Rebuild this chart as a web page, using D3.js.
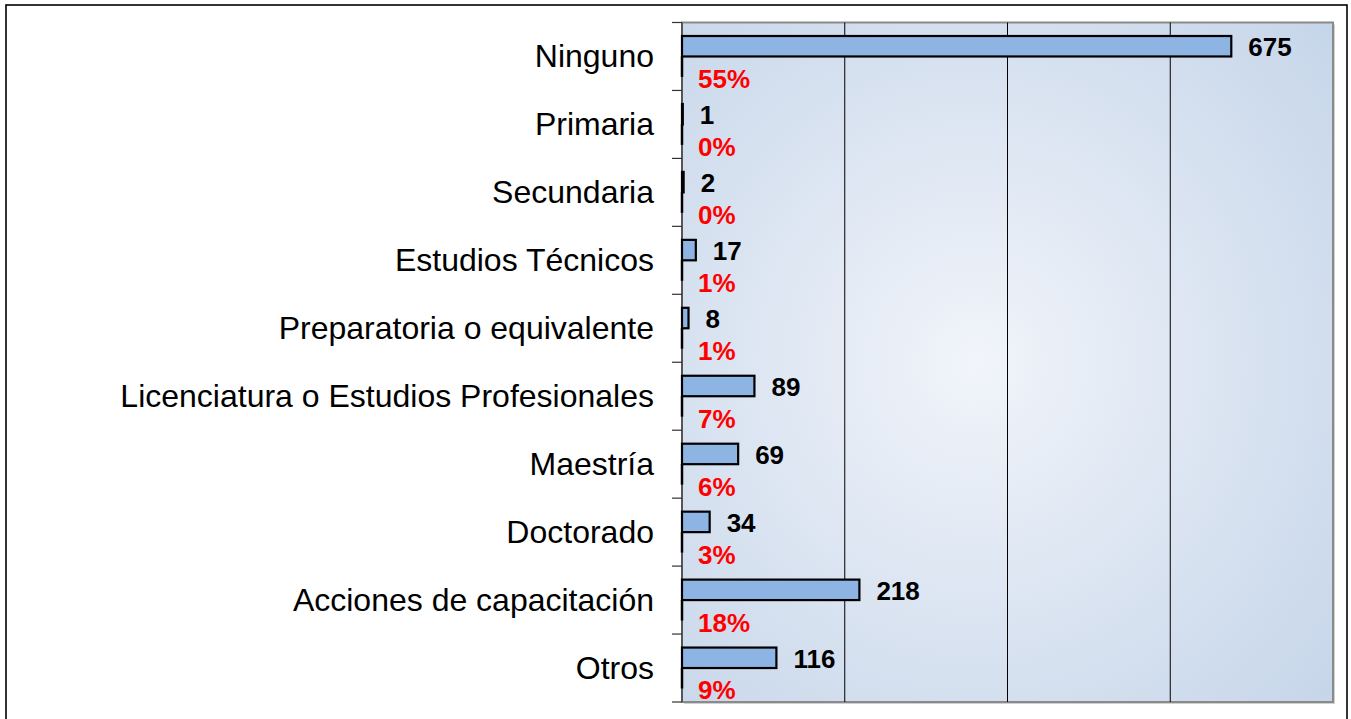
<!DOCTYPE html>
<html>
<head>
<meta charset="utf-8">
<script src="https://cdn.jsdelivr.net/npm/d3@7"></script>
<style>
html,body{margin:0;padding:0;background:#fff;}
svg{display:block;}
</style>
</head>
<body>
<svg id="chart" width="1351" height="719"></svg>
<script>
const categories = ["Ninguno","Primaria","Secundaria","Estudios Técnicos","Preparatoria o equivalente","Licenciatura o Estudios Profesionales","Maestría","Doctorado","Acciones de capacitación","Otros"];
const values = [675,1,2,17,8,89,69,34,218,116];
const percents = [55,0,0,1,1,7,6,3,18,9];
const xTicks = [0,200,400,600,800];
const series = ["valor","porcentaje"];

const svg = d3.select("#chart");
const plot = {left:682, right:1333, top:22.5, bottom:702};

// outer border
svg.append("rect").attr("x",6).attr("y",5).attr("width",1341).attr("height",730)
  .attr("fill","#fff").attr("stroke","#000").attr("stroke-width",1.6);

const defs = svg.append("defs");
const grad = defs.append("radialGradient").attr("id","bg")
  .attr("cx","45%").attr("cy","50%").attr("r","75%");
grad.append("stop").attr("offset","0%").attr("stop-color","#f1f4fa");
grad.append("stop").attr("offset","100%").attr("stop-color","#c5d5e9");

const x = d3.scaleLinear().domain([xTicks[0], xTicks[xTicks.length-1]]).range([plot.left, plot.right]);
const y = d3.scaleBand().domain(categories).range([plot.top, plot.bottom]).paddingInner(0).paddingOuter(0);
const inner = d3.scaleBand().domain(series).range([0, y.bandwidth()]).paddingInner(0).paddingOuter(0.66);

// shadow of plot area
svg.append("rect").attr("x",plot.left+2).attr("y",plot.top+2)
  .attr("width",plot.right-plot.left).attr("height",plot.bottom-plot.top)
  .attr("fill","#d0d0d0");
// plot area
svg.append("rect").attr("x",plot.left).attr("y",plot.top)
  .attr("width",plot.right-plot.left).attr("height",plot.bottom-plot.top)
  .attr("fill","url(#bg)").attr("stroke","#8a8a8a").attr("stroke-width",2);

// gridlines
svg.append("g").selectAll("line").data(xTicks.slice(1,-1)).join("line")
  .attr("x1",d=>x(d)).attr("x2",d=>x(d)).attr("y1",plot.top).attr("y2",plot.bottom)
  .attr("stroke","#000").attr("stroke-width",1);

// left axis
const bounds = categories.map(c=>y(c)).concat([plot.bottom]);
svg.append("line").attr("x1",x(0)).attr("x2",x(0)).attr("y1",plot.top).attr("y2",plot.bottom)
  .attr("stroke","#333").attr("stroke-width",1.2);
svg.append("g").selectAll("line").data(bounds).join("line")
  .attr("x1",x(0)-10).attr("x2",x(0)).attr("y1",d=>d).attr("y2",d=>d)
  .attr("stroke","#333").attr("stroke-width",1.2);

// category labels
svg.append("g").selectAll("text").data(categories).join("text")
  .attr("x",x(0)-28).attr("y",d=>y(d)+y.bandwidth()/2)
  .attr("text-anchor","end").attr("dominant-baseline","central")
  .attr("font-family","Liberation Sans, Arial, sans-serif").attr("font-size",32)
  .attr("fill","#000").text(d=>d);

// value bars
svg.append("g").selectAll("rect").data(values).join("rect")
  .attr("x",x(0)).attr("y",(d,i)=>y(categories[i])+inner("valor"))
  .attr("width",d=>Math.max(0.5, x(d)-x(0))).attr("height",inner.bandwidth())
  .attr("fill","#8eb4e3").attr("stroke","#000").attr("stroke-width",2.2);

// percent series (zero-length bars)
svg.append("g").selectAll("line").data(percents).join("line")
  .attr("x1",x(0)).attr("x2",x(0))
  .attr("y1",(d,i)=>y(categories[i])+inner("porcentaje"))
  .attr("y2",(d,i)=>y(categories[i])+inner("porcentaje")+inner.bandwidth())
  .attr("stroke","#000").attr("stroke-width",2.5);

// value labels
svg.append("g").selectAll("text").data(values).join("text")
  .attr("x",d=>x(d)+17).attr("y",(d,i)=>y(categories[i])+inner("valor")+inner.bandwidth()/2+1)
  .attr("dominant-baseline","central")
  .attr("font-family","Liberation Sans, Arial, sans-serif").attr("font-weight","bold")
  .attr("font-size",26).attr("fill","#000").text(d=>d);

// percent labels
svg.append("g").selectAll("text").data(percents).join("text")
  .attr("x",x(0)+16).attr("y",(d,i)=>y(categories[i])+inner("porcentaje")+inner.bandwidth()+2)
  .attr("dominant-baseline","central")
  .attr("font-family","Liberation Sans, Arial, sans-serif").attr("font-weight","bold")
  .attr("font-size",26).attr("fill","#ff0000").text(d=>d+"%");
</script>
</body>
</html>
